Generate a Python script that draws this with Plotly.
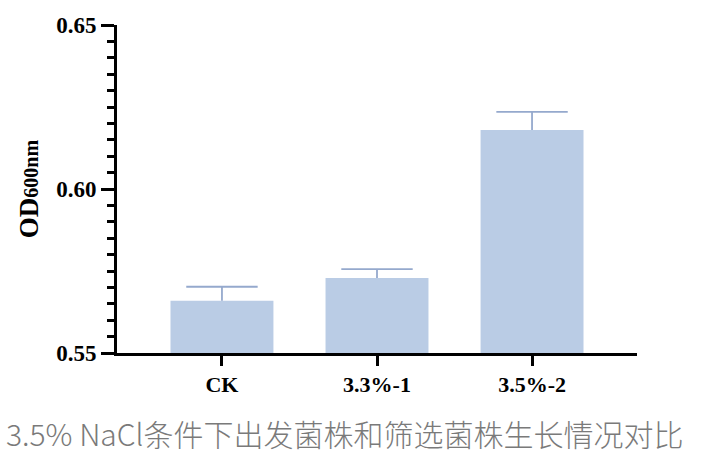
import plotly.graph_objects as go

categories = ["CK", "3.3%-1", "3.5%-2"]
od_values = [0.5659, 0.5729, 0.6180]
od_errors = [0.0043, 0.0027, 0.0055]
y_ticks = [0.55, 0.60, 0.65]
caption = "3.5% NaCl条件下出发菌株和筛选菌株生长情况对比"

W, H = 702, 457
ml, mr, mt, mb = 117, 65, 25, 104
pw, ph = W - ml - mr, H - mt - mb

err_color = "#95a9cd"
tops = [v + e for v, e in zip(od_values, od_errors)]

fig = go.Figure()
fig.add_trace(go.Bar(
    x=categories, y=od_values,
    width=0.664,
    marker=dict(color="#bacce5", line=dict(width=0)),
))
# upper error whisker (no lower cap) + cap marker
fig.add_trace(go.Scatter(
    x=categories, y=tops, mode="markers",
    marker=dict(symbol="line-ew", size=51, line=dict(width=1.8, color=err_color), color=err_color),
    error_y=dict(type="data", symmetric=False, array=[0, 0, 0], arrayminus=od_errors,
                 color=err_color, thickness=1.8, width=0),
    cliponaxis=False, hoverinfo="skip",
))

serif = "Liberation Serif, Times New Roman, serif"
fig.update_layout(
    width=W, height=H,
    margin=dict(l=ml, r=mr, t=mt, b=mb),
    paper_bgcolor="white", plot_bgcolor="white",
    showlegend=False,
    xaxis=dict(
        range=[-0.677, 2.677],
        showline=True, linecolor="black", linewidth=3,
        ticks="outside", ticklen=10, tickwidth=3, tickcolor="black",
        tickfont=dict(family=serif, size=22, color="black", weight="bold"),
        showgrid=False, zeroline=False,
    ),
    yaxis=dict(
        range=[0.55, 0.65],
        tickvals=y_ticks, tickformat=".2f",
        showline=True, linecolor="black", linewidth=3,
        ticks="outside", ticklen=13, tickwidth=3, tickcolor="black",
        minor=dict(dtick=0.005, ticks="outside", ticklen=7, tickwidth=3, tickcolor="black"),
        tickfont=dict(family=serif, size=23, color="black", weight="bold"),
        showgrid=False, zeroline=False,
        title=dict(text="OD<span style='font-size:20px'>600nm</span>",
                   font=dict(family=serif, size=27, color="black", weight="bold"),
                   standoff=10),
    ),
)

fig.add_annotation(
    text=caption, xref="paper", yref="paper",
    x=(4 - ml) / pw, y=(mt + ph - 433) / ph,
    xanchor="left", yanchor="middle", showarrow=False,
    font=dict(family="Noto Sans CJK SC", size=30, color="#7a7a7a", weight=300),
)

fig.write_html("out.html", config={"displayModeBar": False},
               post_script="document.body.style.margin='0';document.body.style.overflow='hidden';")
